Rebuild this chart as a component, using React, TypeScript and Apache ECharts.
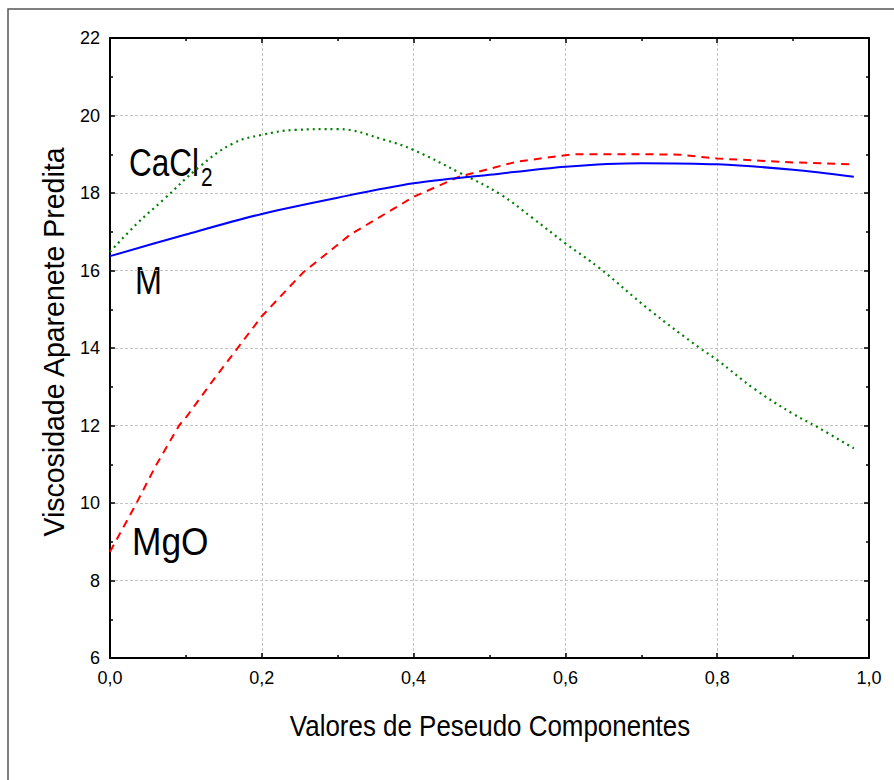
import React, { useEffect, useRef } from 'react';
import * as echarts from 'echarts';

// M (solid blue)
const mX = [0, 0.1, 0.2, 0.3, 0.4, 0.5, 0.6, 0.7, 0.8, 0.9, 0.98];
const mY = [16.37, 16.93, 17.46, 17.88, 18.25, 18.47, 18.68, 18.77, 18.74, 18.6, 18.42];

// MgO (dashed red)
const mgoX = [0, 0.035, 0.06, 0.091, 0.101, 0.136, 0.2, 0.254, 0.316, 0.4, 0.46, 0.536, 0.61, 0.7, 0.75, 0.8, 0.9, 0.98];
const mgoY = [8.74, 10.0, 10.95, 12.0, 12.23, 13.17, 14.82, 15.94, 16.92, 17.9, 18.42, 18.81, 19.0, 19.0, 18.99, 18.89, 18.79, 18.74];

// CaCl2 (dotted green)
const caX = [0, 0.035, 0.07, 0.118, 0.162, 0.2, 0.245, 0.3, 0.362, 0.4, 0.461, 0.514, 0.557, 0.6, 0.645, 0.711, 0.777, 0.8, 0.85, 0.9, 0.931, 0.98];
const caY = [16.48, 17.2, 17.82, 18.68, 19.28, 19.5, 19.63, 19.65, 19.37, 19.11, 18.52, 17.97, 17.35, 16.7, 16.06, 14.98, 14.0, 13.69, 12.93, 12.3, 11.97, 11.41];

const xTitle = 'Valores de Peseudo Componentes';
const yTitle = 'Viscosidade Aparenete Predita';

const FONT = "'Liberation Sans', Arial, Helvetica, sans-serif";

const pairs = (xs: number[], ys: number[]) => xs.map((x, i) => [x, ys[i]]);

export default function App() {
  const ref = useRef<HTMLDivElement>(null);
  useEffect(() => {
    const chart = echarts.init(ref.current!, null, { renderer: 'svg' });
    const tickCommon = {
      axisLine: { show: true, onZero: false, lineStyle: { color: '#000', width: 2 } },
      axisTick: { show: true, inside: true, length: 5, lineStyle: { color: '#000', width: 1.5 } },
      minorTick: { show: true, splitNumber: 2, length: 3, lineStyle: { color: '#000', width: 1.5 } },
    };
    chart.setOption({
      animation: false,
      backgroundColor: '#fff',
      grid: { left: 110, top: 38, right: 25, bottom: 122, containLabel: false },
      xAxis: [
        {
          type: 'value', min: 0, max: 1, interval: 0.2, position: 'bottom',
          ...tickCommon,
          axisLabel: {
            color: '#000', fontSize: 18, fontFamily: FONT, margin: 11,
            formatter: (v: number) => v.toFixed(1).replace('.', ','),
          },
          splitLine: { show: true, lineStyle: { color: '#c4c4c4', type: [3, 2], width: 1 } },
        },
        {
          type: 'value', min: 0, max: 1, interval: 0.2, position: 'top',
          ...tickCommon,
          axisLabel: { show: false },
          splitLine: { show: false },
        },
      ],
      yAxis: [
        {
          type: 'value', min: 6, max: 22, interval: 2, position: 'left',
          ...tickCommon,
          axisLabel: { color: '#000', fontSize: 18, fontFamily: FONT, margin: 10 },
          splitLine: { show: true, lineStyle: { color: '#c4c4c4', type: [3, 2], width: 1 } },
        },
        {
          type: 'value', min: 6, max: 22, interval: 2, position: 'right',
          ...tickCommon,
          axisLabel: { show: false },
          splitLine: { show: false },
        },
      ],
      series: [
        {
          type: 'line', data: pairs(caX, caY), showSymbol: false, symbol: 'none',
          smooth: 0.4,
          lineStyle: { color: '#008000', width: 2.2, type: [2, 4], cap: 'butt' },
        },
        {
          type: 'line', data: pairs(mgoX, mgoY), showSymbol: false, symbol: 'none',
          smooth: false,
          lineStyle: { color: '#ff0000', width: 2, type: [8, 6] },
        },
        {
          type: 'line', data: pairs(mX, mY), showSymbol: false, symbol: 'none',
          smooth: 0.3,
          lineStyle: { color: '#0000ff', width: 2 },
        },
      ],
      graphic: [
        {
          type: 'rect', shape: { x: 8, y: 9, width: 900, height: 800 },
          style: { fill: 'none', stroke: '#555', lineWidth: 1.5 }, silent: true,
        },
        {
          type: 'text', x: 490, y: 726, scaleX: 0.865,
          style: { text: xTitle, font: `30px ${FONT}`, fill: '#000', align: 'center', verticalAlign: 'middle' },
        },
        {
          type: 'text', x: 54, y: 342, rotation: Math.PI / 2, scaleX: 0.95,
          style: { text: yTitle, font: `30px ${FONT}`, fill: '#000', align: 'center', verticalAlign: 'middle' },
        },
        {
          type: 'text', x: 129, y: 162.5, scaleX: 0.83,
          style: { text: 'CaCl', font: `38px ${FONT}`, fill: '#000', align: 'left', verticalAlign: 'middle' },
        },
        {
          type: 'text', x: 201, y: 177, scaleX: 0.8,
          style: { text: '2', font: `26px ${FONT}`, fill: '#000', align: 'left', verticalAlign: 'middle' },
        },
        {
          type: 'text', x: 135, y: 281, scaleX: 0.85,
          style: { text: 'M', font: `38px ${FONT}`, fill: '#000', align: 'left', verticalAlign: 'middle' },
        },
        {
          type: 'text', x: 132, y: 542, scaleX: 0.93,
          style: { text: 'MgO', font: `38px ${FONT}`, fill: '#000', align: 'left', verticalAlign: 'middle' },
        },
      ],
    });
    return () => chart.dispose();
  }, []);
  return (
    <div
      ref={ref}
      style={{ position: 'fixed', left: 0, top: 0, width: 894, height: 780, background: '#fff' }}
    />
  );
}
